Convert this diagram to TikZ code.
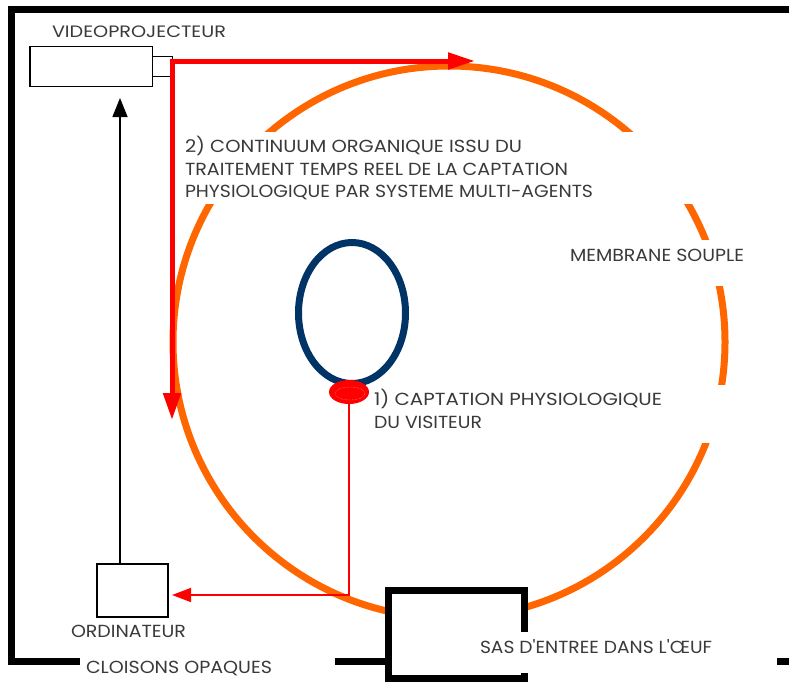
\documentclass[tikz,border=0pt]{standalone}
\usepackage{fontspec}
\setmainfont{Poppins}[Ligatures=TeXOff]
\usepackage{graphicx}
\usetikzlibrary{arrows.meta,shapes.geometric}
\definecolor{membrane}{HTML}{FF6600}
\definecolor{visitorblue}{HTML}{003366}
\definecolor{txt}{HTML}{3A3A3A}
\newcommand{\fitw}[2]{\resizebox{#1}{\height}{#2}}
\begin{document}
\begin{tikzpicture}[x=1pt,y=-1pt,
  wallline/.style={line width=7pt, black, line join=miter},
  membraneline/.style={line width=7pt, membrane},
  lbl/.style={inner sep=0pt, outer sep=0pt, anchor=base west, text=txt, font=\fontsize{17.5}{20}\selectfont},
  boxline/.style={draw=black, line width=1.5pt, fill=white, inner sep=0pt, outer sep=0pt},
  redthick/.style={draw=red, line width=5pt},
  redthin/.style={draw=red, line width=1.5pt},
  blackarrow/.style={draw=black, line width=1.5pt}]
\useasboundingbox (0,0) rectangle (789,683);
\fill[white] (0,0) rectangle (789,683);

% membrane
\draw[membraneline] (449,342) circle [radius=276pt];
% white label backgrounds
\fill[white] (180,132) rectangle (700,204);
\fill[white] (560,240) rectangle (732,286);
\fill[white] (372,385) rectangle (732,443);

% walls
\draw[wallline] (789,9.5) -- (11,9.5) -- (11,661.5) -- (80,661.5);
\draw[wallline] (335,661.5) -- (388.5,661.5);
\draw[wallline] (777,661.5) -- (789,661.5);

% SAS
\fill[white] (388.5,590) rectangle (524.5,678.5);
\draw[wallline] (524.5,632) -- (524.5,590) -- (388.5,590) -- (388.5,678.5) -- (524.5,678.5) -- (524.5,673);
\fill[white] (520,632) rectangle (720,673);

% devices
\node[boxline, minimum width=122.5pt, minimum height=40pt] (vp) at (91.25,66.5) {};
\node[boxline, minimum width=20pt, minimum height=20pt] (lens) at (162.5,66.5) {};
\node[boxline, minimum width=71pt, minimum height=53pt] (ordi) at (132.5,590.5) {};

% visitor and sensor
\node[ellipse, draw=visitorblue, line width=7pt, minimum width=107pt, minimum height=141pt, inner sep=0pt] (visitor) at (352,313) {};
\node[ellipse, fill=red, minimum width=40pt, minimum height=24pt, inner sep=0pt, outer sep=0pt] (sensor) at (349,392) {};
\draw[red!25!white, line width=0.4pt, densely dotted] (sensor.center) ++(1pt,-1.5pt) ellipse [x radius=15pt, y radius=6.5pt];

% connectors
\coordinate (corner) at (172,61);
\coordinate (htip) at (475,61);
\coordinate (vtip) at (172,420);
\coordinate (ctip) at (120,98);
\coordinate (rtip) at (172,595);
\draw[redthick, -{Triangle[length=27pt,width=16pt]}] ([xshift=-2.5pt]lens.east |- corner) -- (htip);
\draw[redthick, -{Triangle[length=27pt,width=17pt]}] ([yshift=2.5pt]corner) -- (vtip);
\draw[blackarrow, -{Triangle[length=19pt,width=15pt]}] (ordi.north -| ctip) -- (ctip);
\draw[redthin, -{Triangle[length=19pt,width=14pt]}] (sensor.south) |- (rtip);

% labels
\node[lbl, font=\fontsize{16.5}{20}\selectfont] (tvp) at (52,37) {\fitw{174pt}{VIDEOPROJECTEUR}};
\node[lbl] (t2a) at (185,152) {\fitw{337pt}{2) CONTINUUM ORGANIQUE ISSU DU}};
\node[lbl] (t2b) at (185,175) {\fitw{383pt}{TRAITEMENT TEMPS REEL DE LA CAPTATION}};
\node[lbl] (t2c) at (185,197) {\fitw{408pt}{PHYSIOLOGIQUE PAR SYSTEME MULTI-AGENTS}};
\node[lbl] (tmem) at (570,261) {\fitw{174pt}{MEMBRANE SOUPLE}};
\node[lbl] (t1a) at (374,405) {\fitw{288pt}{1) CAPTATION PHYSIOLOGIQUE}};
\node[lbl] (t1b) at (374,428) {\fitw{108pt}{DU VISITEUR}};
\node[lbl] (tordi) at (71,637) {\fitw{115pt}{ORDINATEUR}};
\node[lbl] (tcloi) at (86,673) {\fitw{186pt}{CLOISONS OPAQUES}};
\node[lbl] (tsas) at (480,653) {\fitw{232pt}{SAS D'ENTREE DANS L'ŒUF}};
\end{tikzpicture}
\end{document}
